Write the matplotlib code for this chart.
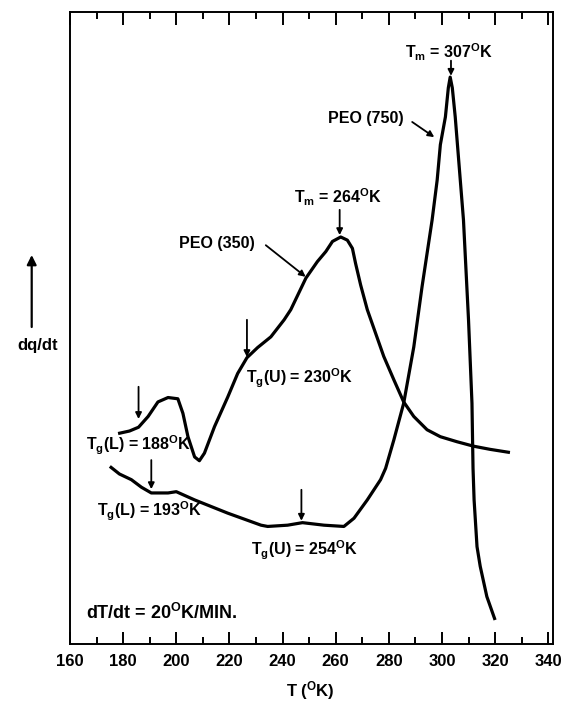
import numpy as np
import matplotlib
matplotlib.use("Agg")
import matplotlib.pyplot as plt
from matplotlib.ticker import MultipleLocator

# DSC traces (T in K, dq/dt in arbitrary units)
peo350_T = [178.1, 182.4, 185.8, 189.4, 193.1, 196.9, 200.6, 202.5, 204.4, 206.9,
            208.7, 210.6, 214.4, 219.4, 223.1, 226.6, 230.6, 235.6, 240.6, 243.1,
            248.8, 253.1, 256.3, 258.8, 261.9, 264.4, 266.3, 267.5, 269.4, 271.9,
            275.0, 278.1, 281.9, 285.6, 289.4, 294.4, 299.4, 305.7, 311.9, 318.1,
            325.6]
peo350_q = [33.3, 33.7, 34.3, 36.0, 38.3, 39.0, 38.8, 36.5, 32.8, 29.6,
            29.0, 30.2, 34.4, 39.1, 42.8, 45.3, 46.9, 48.6, 51.3, 52.9,
            57.9, 60.5, 62.1, 63.7, 64.4, 63.9, 62.6, 60.2, 56.8, 52.9,
            49.2, 45.5, 41.8, 38.3, 36.0, 33.9, 32.8, 32.0, 31.3, 30.8,
            30.3]

peo750_T = [175.0, 178.6, 183.1, 186.9, 190.6, 196.9, 200.0, 206.9, 219.4, 231.9,
            234.4, 241.9, 247.5, 255.6, 263.1, 266.9, 271.9, 276.9, 278.8, 281.9,
            285.6, 289.4, 292.5, 296.3, 298.2, 299.4, 301.3, 302.4, 303.1, 303.9,
            305.0, 306.9, 308.1, 310.0, 311.3, 311.7, 312.1, 313.2, 314.4, 316.9,
            320.0]
peo750_q = [28.1, 26.9, 26.0, 24.8, 23.9, 23.9, 24.1, 22.8, 20.7, 18.8,
            18.6, 18.8, 19.2, 18.8, 18.6, 19.9, 22.8, 26.0, 27.8, 32.3,
            38.1, 47.0, 56.5, 67.1, 73.4, 79.0, 83.4, 88.0, 89.7, 88.0,
            83.4, 73.4, 67.1, 51.3, 38.1, 27.8, 22.8, 15.4, 12.3, 7.5,
            3.8]

x_ticks = [160, 180, 200, 220, 240, 260, 280, 300, 320, 340]

plt.rcParams["font.family"] = ["Liberation Sans", "DejaVu Sans"]
plt.rcParams["font.weight"] = "bold"
plt.rcParams["mathtext.fontset"] = "custom"
plt.rcParams["mathtext.rm"] = "Liberation Sans:bold"
plt.rcParams["mathtext.it"] = "Liberation Sans:bold"
plt.rcParams["mathtext.bf"] = "Liberation Sans:bold"

fig = plt.figure(figsize=(5.7, 7.04), dpi=100)
ax = fig.add_axes([70 / 570, 1 - 644 / 704, 483 / 570, 632 / 704])

ax.plot(peo350_T, peo350_q, color="black", lw=2.3, solid_joinstyle="round", solid_capstyle="butt")
ax.plot(peo750_T, peo750_q, color="black", lw=2.3, solid_joinstyle="round", solid_capstyle="butt")

ax.set_xlim(160, 341.8)
ax.set_ylim(0, 100)
ax.set_xticks(x_ticks)
ax.xaxis.set_minor_locator(MultipleLocator(10))
ax.set_yticks([])
ax.tick_params(axis="x", which="both", direction="in", top=True, bottom=True,
               width=1.4, labelsize=12, pad=7)
ax.tick_params(axis="x", which="major", length=9)
ax.tick_params(axis="x", which="minor", length=5)
for lab in ax.get_xticklabels():
    lab.set_fontweight("bold")
for sp in ax.spines.values():
    sp.set_linewidth(1.4)

arrow = dict(arrowstyle="-|>", color="black", lw=1.3, mutation_scale=9,
             shrinkA=0, shrinkB=0)
fs = 11.5

# melting / glass transition annotations
ax.text(302.6, 92.6, r"$\mathrm{T_m}$ = 307$^\mathrm{O}$K", ha="center", va="baseline", fontsize=fs)
ax.annotate("", xy=(303.4, 89.9), xytext=(303.4, 92.3), arrowprops=arrow)

ax.text(271.3, 82.4, "PEO (750)", ha="center", va="baseline", fontsize=fs)
ax.annotate("", xy=(297.1, 80.2), xytext=(288.8, 82.6), arrowprops=arrow)

ax.text(260.9, 69.7, r"$\mathrm{T_m}$ = 264$^\mathrm{O}$K", ha="center", va="baseline", fontsize=fs)
ax.annotate("", xy=(261.5, 64.7), xytext=(261.5, 68.7), arrowprops=arrow)

ax.text(215.4, 62.7, "PEO (350)", ha="center", va="baseline", fontsize=fs)
ax.annotate("", xy=(248.7, 58.1), xytext=(233.7, 63.1), arrowprops=arrow)

ax.text(226.2, 41.25, r"$\mathrm{T_g}$(U) = 230$^\mathrm{O}$K", ha="left", va="baseline", fontsize=fs)
ax.annotate("", xy=(226.6, 45.4), xytext=(226.6, 51.3), arrowprops=arrow)

ax.text(166.2, 30.7, r"$\mathrm{T_g}$(L) = 188$^\mathrm{O}$K", ha="left", va="baseline", fontsize=fs)
ax.annotate("", xy=(185.8, 35.6), xytext=(185.8, 40.7), arrowprops=arrow)

ax.text(170.0, 20.25, r"$\mathrm{T_g}$(L) = 193$^\mathrm{O}$K", ha="left", va="baseline", fontsize=fs)
ax.annotate("", xy=(190.6, 24.5), xytext=(190.6, 29.1), arrowprops=arrow)

ax.text(228.1, 14.1, r"$\mathrm{T_g}$(U) = 254$^\mathrm{O}$K", ha="left", va="baseline", fontsize=fs)
ax.annotate("", xy=(247.1, 19.5), xytext=(247.1, 24.4), arrowprops=arrow)

ax.text(166.2, 3.9, r"dT/dt = 20$^\mathrm{O}$K/MIN.", ha="left", va="baseline", fontsize=13)

# axis labels
fig.text(310 / 570, 1 - 691 / 704, r"T ($^\mathrm{O}$K)", ha="center", va="center", fontsize=12)
fig.text(37.5 / 570, 1 - 345.5 / 704, "dq/dt", ha="center", va="center", fontsize=12)
ax.annotate("", xy=(31.7 / 570, 1 - 255 / 704), xytext=(31.7 / 570, 1 - 327 / 704),
            xycoords="figure fraction", textcoords="figure fraction",
            arrowprops=dict(arrowstyle="-|>", color="black", lw=1.6, mutation_scale=14,
                            shrinkA=0, shrinkB=0), annotation_clip=False)

fig.savefig("out.png", dpi=100)
plt.close(fig)
